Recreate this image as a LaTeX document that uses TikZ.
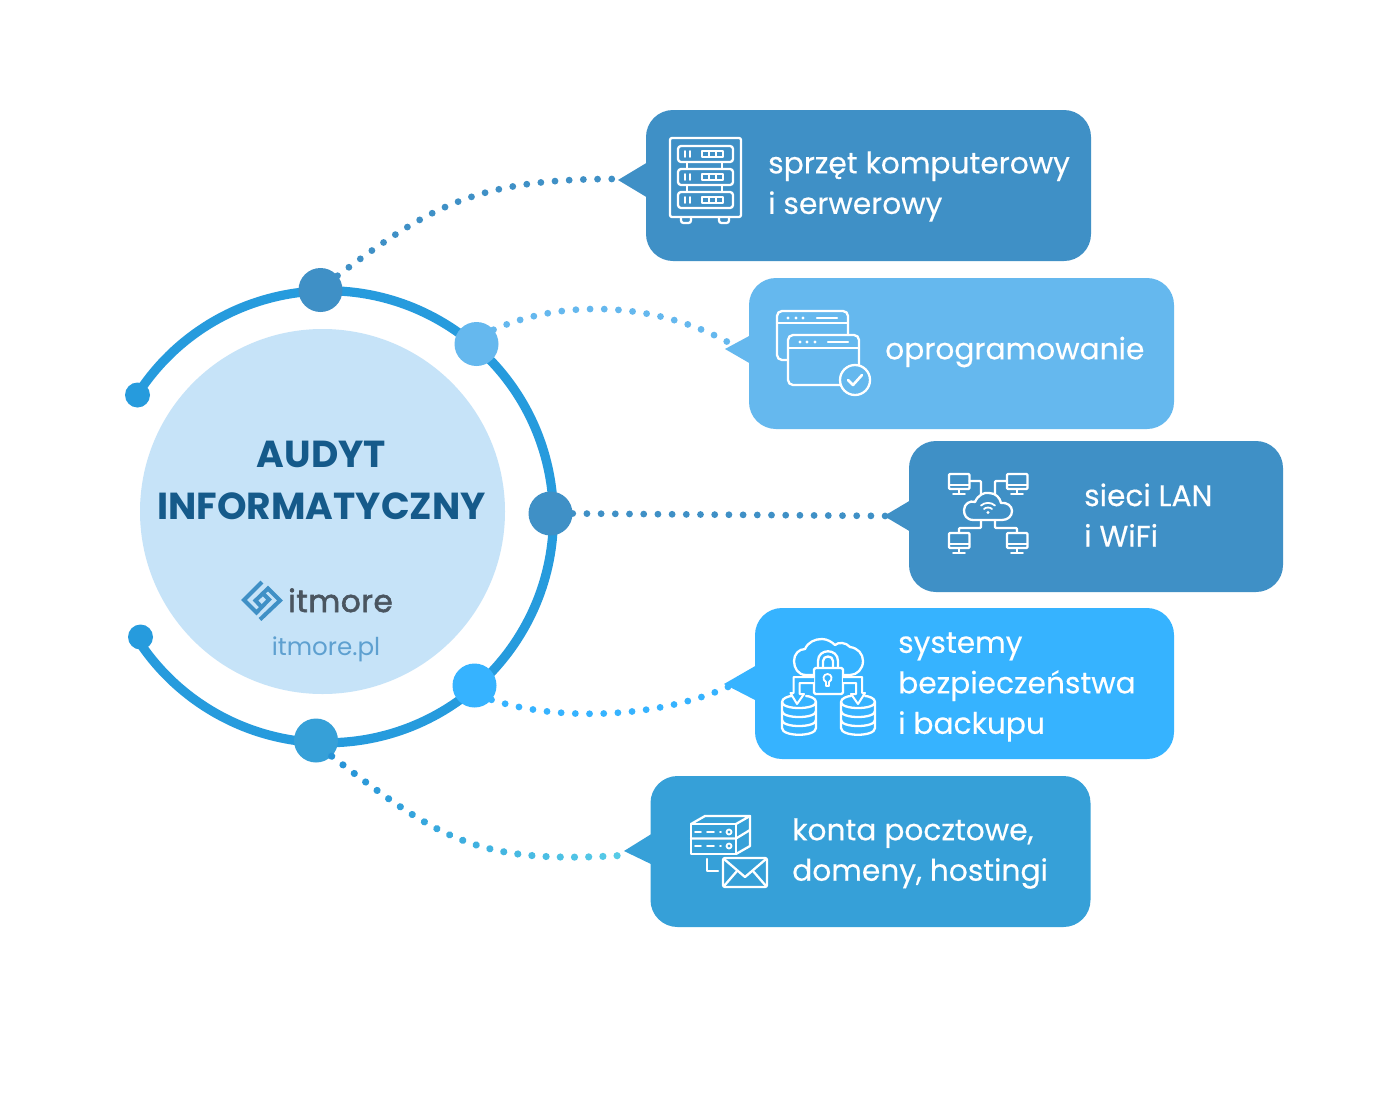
\documentclass[tikz,border=0pt]{standalone}
\usepackage{fontspec}
\usetikzlibrary{decorations.markings}
\setmainfont{Poppins}
\definecolor{cA}{HTML}{3F90C6}
\definecolor{cB}{HTML}{65B8EE}
\definecolor{cC}{HTML}{36B3FF}
\definecolor{cD}{HTML}{36A0D8}
\definecolor{cRing}{HTML}{269BDD}
\definecolor{cDisc}{HTML}{C6E3F8}
\definecolor{cHead}{HTML}{155A8A}
\definecolor{cLogo}{HTML}{4A5560}
\definecolor{cUrl}{HTML}{5EA0D0}
\definecolor{cGradA}{HTML}{238FD6}
\definecolor{cGradB}{HTML}{58CDE8}
\tikzset{
  bubble/.style={rounded corners=27pt,inner sep=0pt,minimum height=151pt},
  hub/.style={circle,inner sep=0pt,minimum size=44pt},
  endpt/.style={circle,inner sep=0pt,minimum size=25pt,fill=cRing},
  dotted link/.style={line width=6.8pt,line cap=round,dash pattern=on 0pt off 14.2pt},
  gradient dots/.style={decoration={markings,mark=between positions 0 and 1 step 14.2pt with {%
     \pgfmathsetmacro{\mixv}{min(100,4.2*\pgfkeysvalueof{/pgf/decoration/mark info/sequence number})}%
     \fill[cGradB!\mixv!cGradA] (0,0) circle (3.6pt);}},decorate},
  label/.style={text=white,anchor=west,align=left,inner sep=0pt,font=\fontsize{29.7}{40.5}\selectfont\addfontfeature{FakeBold=0.3}},
  ico/.style={draw=white,line width=2.3pt,line join=round,line cap=round},
}
\begin{document}
\begin{tikzpicture}[x=1pt,y=-1pt]
\useasboundingbox (0,0) rectangle (1380,1100);
\fill[white] (0,0) rectangle (1380,1100);
% centre disc
\node[circle,fill=cDisc,inner sep=0pt,minimum size=365pt] (disc) at (322.5,511.5) {};
\node[text=cHead,font=\fontsize{37.6}{52}\selectfont\bfseries,align=center,inner sep=0pt] (title) at (321.5,480) {AUDYT\\INFORMATYCZNY};
\node[text=cLogo,font=\fontsize{31}{31}\selectfont\addfontfeature{FakeBold=2,LetterSpace=2},anchor=base west,inner sep=0pt] (logotext) at (288,612) {itmore};
\node[text=cUrl,font=\fontsize{24.6}{25}\selectfont,inner sep=0pt] (url) at (326,649) {itmore.pl};
\draw[cA,line width=4pt,miter limit=10] (262,582) -- (244,600) -- (256.5,612.5) -- (269,599.5) -- (261.5,592);
\draw[cA,line width=4pt,miter limit=10] (260,619.5) -- (280,600.5) -- (268,588.5) -- (255.5,600.5) -- (262.5,608);
% ring
\draw[cRing,line width=9.2pt] (137,395) arc[start angle=-147.4,end angle=146.6,radius=226];
\node[endpt] (e1) at (137.5,395) {};
\node[endpt] (e2) at (140.5,637) {};
% hubs
\node[hub,fill=cA] (h1) at (320.5,290) {};
\node[hub,fill=cB] (h2) at (476.5,344) {};
\node[hub,fill=cA] (h3) at (550.5,513.5) {};
\node[hub,fill=cC] (h4) at (474.5,685.5) {};
\node[hub,fill=cD] (h5) at (316,740.5) {};
% tips
\coordinate (t1) at (622,179);
\coordinate (t2) at (733,345);
\coordinate (t3) at (890,516);
\coordinate (t4) at (730,686);
\coordinate (t5) at (628,855);
\coordinate (a1) at (432,205); \coordinate (b1) at (478,178);
\coordinate (a2) at (570,296); \coordinate (b2) at (664,305);
\coordinate (a4) at (560,722); \coordinate (b4) at (660,718);
\coordinate (a5) at (442,841); \coordinate (b5) at (478,865);
% connectors
\draw[dotted link,cA] (h1.40) .. controls (a1) and (b1) .. (t1);
\draw[dotted link,cB] (h2.40) .. controls (a2) and (b2) .. (t2);
\draw[dotted link,cA] (h3.east) -- (t3);
\draw[dotted link,cC] (h4.-40) .. controls (a4) and (b4) .. (t4);
\path[gradient dots] (h5.-45) .. controls (a5) and (b5) .. (t5);
% bubbles
\node[bubble,fill=cA,minimum width=445pt] (b-one) at (868.5,185.5) {};
\fill[cA] (648,162) -- (618,180) -- (648,198) -- cycle;
\node[bubble,fill=cB,minimum width=425pt] (b-two) at (961.5,353.5) {};
\fill[cB] (751,335) -- (725,349) -- (751,364) -- cycle;
\node[bubble,fill=cA,minimum width=374pt] (b-three) at (1096,516.5) {};
\fill[cA] (911,500) -- (884,516) -- (911,532) -- cycle;
\node[bubble,fill=cC,minimum width=419pt] (b-four) at (964.5,683.5) {};
\fill[cC] (757,665) -- (724,684) -- (757,701) -- cycle;
\node[bubble,fill=cD,minimum width=440pt] (b-five) at (870.5,851.5) {};
\fill[cD] (653,833) -- (624,851) -- (653,865) -- cycle;
% labels
\node[label] (l1) at (768,186.5) {sprzęt komputerowy\\i serwerowy};
\node[label] (l2) at (885,352) {oprogramowanie};
\node[label] (l3) at (1084,515) {sieci LAN\\i WiFi};
\node[label] (l4) at (898,687) {systemy\\bezpieczeństwa\\i backupu};
\node[label] (l5) at (792,853.5) {konta pocztowe,\\domeny, hostingi};
% server rack icon
\draw[ico,rounded corners=2pt] (670,138) rectangle (741,217);
\foreach \yy in {146,169,192}{
  \draw[ico,rounded corners=3pt] (678,\yy) rectangle (733,\yy+16);
  \draw[ico,line width=1.8pt] (685,\yy+5) -- (685,\yy+11) (690,\yy+5) -- (690,\yy+11);
  \draw[ico,line width=1.8pt] (702,\yy+5) rectangle (723,\yy+11) (709,\yy+5) -- (709,\yy+11) (716,\yy+5) -- (716,\yy+11);
}
\draw[ico,line width=1.8pt] (687,162) -- (687,169) (722,162) -- (722,169) (687,185) -- (687,192) (722,185) -- (722,192);
\draw[ico,rounded corners=2.5pt] (681,217) -- (681,223) -- (691,223) -- (691,217);
\draw[ico,rounded corners=2.5pt] (719,217) -- (719,223) -- (729,223) -- (729,217);
% windows icon
\draw[ico,rounded corners=5pt] (788,360) -- (777,360) -- (777,311) -- (848,311) -- (848,335);
\draw[ico] (777,323) -- (848,323);
\fill[white] (788,318) circle (1.7) (796,318) circle (1.7) (803,318) circle (1.7);
\draw[ico] (817,318) -- (837,318);
\draw[ico,rounded corners=5pt] (788,335) rectangle (859,385);
\draw[ico] (788,348) -- (859,348);
\fill[white] (800,342) circle (1.7) (807,342) circle (1.7) (815,342) circle (1.7);
\draw[ico] (828,342) -- (848,342);
\draw[ico,fill=cB] (855,380) circle (15);
\draw[ico,line width=2.6pt] (848,380) -- (853,385) -- (862,375);
% network icon
\foreach \xx/\yy in {949/474,1007/474,949/533,1007/533}{
  \draw[ico,rounded corners=1pt] (\xx,\yy) rectangle (\xx+20.5,\yy+15);
  \draw[ico,line width=1.6pt] (\xx,\yy+11) -- (\xx+20.5,\yy+11);
  \draw[ico,line width=1.8pt] (\xx+10,\yy+15) -- (\xx+10,\yy+20) (\xx+4,\yy+20) -- (\xx+16,\yy+20);
}
\draw[ico,rounded corners=1pt] (969.5,481) -- (981,481) -- (981,494);
\draw[ico,rounded corners=1pt] (1007,481) -- (995,481) -- (995,494);
\draw[ico,rounded corners=1pt] (981,520) -- (981,528) -- (959,528) -- (959,533);
\draw[ico,rounded corners=1pt] (995,520) -- (995,528) -- (1017,528) -- (1017,533);
\draw[ico] (974,520) .. controls (966,520) and (964,515) .. (964,510) .. controls (964,504) and (970,500) .. (975,502) .. controls (978,495) and (984,492) .. (989,493) .. controls (996,493) and (1000,498) .. (1001,503) .. controls (1007,502) and (1012,506) .. (1012,511) .. controls (1012,516) and (1008,520) .. (1002,520) -- cycle;
\fill[white] (988,512.5) circle (1.6);
\draw[ico,line width=1.8pt] (984,509) .. controls (986,507) and (990,507) .. (992,509);
\draw[ico,line width=1.8pt] (981,505.5) .. controls (985,502) and (991,502) .. (995,505.5);
% security icon
\draw[ico] (814,675) -- (806,675) .. controls (798,675) and (794,668) .. (794,661) .. controls (794,654) and (799,649) .. (805,649) .. controls (808,642) and (815,639) .. (822,639) .. controls (827,639) and (832,642) .. (835,645) .. controls (838,642) and (846,642) .. (850,647) .. controls (858,648) and (863,654) .. (863,661) .. controls (863,669) and (857,675) .. (850,675) -- (843,675);
\draw[ico,fill=cC,rounded corners=1.5pt] (814,668) rectangle (843,694);
\draw[ico] (818,668) -- (818,661) .. controls (818,648) and (838,648) .. (838,661) -- (838,668);
\draw[ico] (823,668) -- (823,661) .. controls (823,655) and (833,655) .. (833,661) -- (833,668);
\draw[ico,line width=1.8pt] (826,686) -- (826,682) .. controls (822,680) and (823,674) .. (827.5,674) .. controls (832,674) and (833,680) .. (829,682) -- (829,686) -- cycle;
\foreach \xx in {782,841}{
  \draw[ico,fill=cC] (\xx,702) -- (\xx,728) .. controls (\xx,737) and (\xx+34,737) .. (\xx+34,728) -- (\xx+34,702);
  \draw[ico] (\xx,711) .. controls (\xx,719) and (\xx+34,719) .. (\xx+34,711);
  \draw[ico] (\xx,720) .. controls (\xx,728) and (\xx+34,728) .. (\xx+34,720);
  \draw[ico] (\xx,702) .. controls (\xx,710) and (\xx+34,710) .. (\xx+34,702);
  \draw[ico] (\xx,702) .. controls (\xx,698) and (\xx+7,696) .. (\xx+10,696);
  \draw[ico] (\xx+34,702) .. controls (\xx+34,698) and (\xx+27,696) .. (\xx+24,696);
}
\draw[ico,line width=2pt,fill=cC] (814,677) -- (793.5,677) -- (793.5,693) -- (790.5,693) -- (797,704) -- (804,694) -- (799.5,694) -- (799.5,683) -- (814,683);
\draw[ico,line width=2pt,fill=cC] (843,677) -- (862,677) -- (862,693) -- (865,693) -- (858,704) -- (851,694) -- (856,694) -- (856,683) -- (843,683);
% mail icon
\draw[ico] (691,824) rectangle (736,854);
\draw[ico] (691,838.5) -- (736,838.5) -- (750,830);
\draw[ico] (691,824) -- (705,816) -- (750,816) -- (736,824);
\draw[ico] (750,816) -- (750,846) -- (736,854);
\foreach \yy in {832,846}{
  \draw[ico,line width=1.8pt] (695,\yy) -- (701,\yy) (707,\yy) -- (714,\yy) (720,\yy) -- (721,\yy);
  \draw[ico,line width=1.8pt] (729,\yy) circle (2.5);
}
\draw[ico] (707,859) -- (707,871) -- (718,871);
\draw[ico,rounded corners=2pt] (723,858) rectangle (767,887);
\draw[ico] (724,859) -- (745,877) -- (766,859);
\draw[ico] (724,886) -- (737,871) (766,886) -- (753,871);
\end{tikzpicture}
\end{document}
